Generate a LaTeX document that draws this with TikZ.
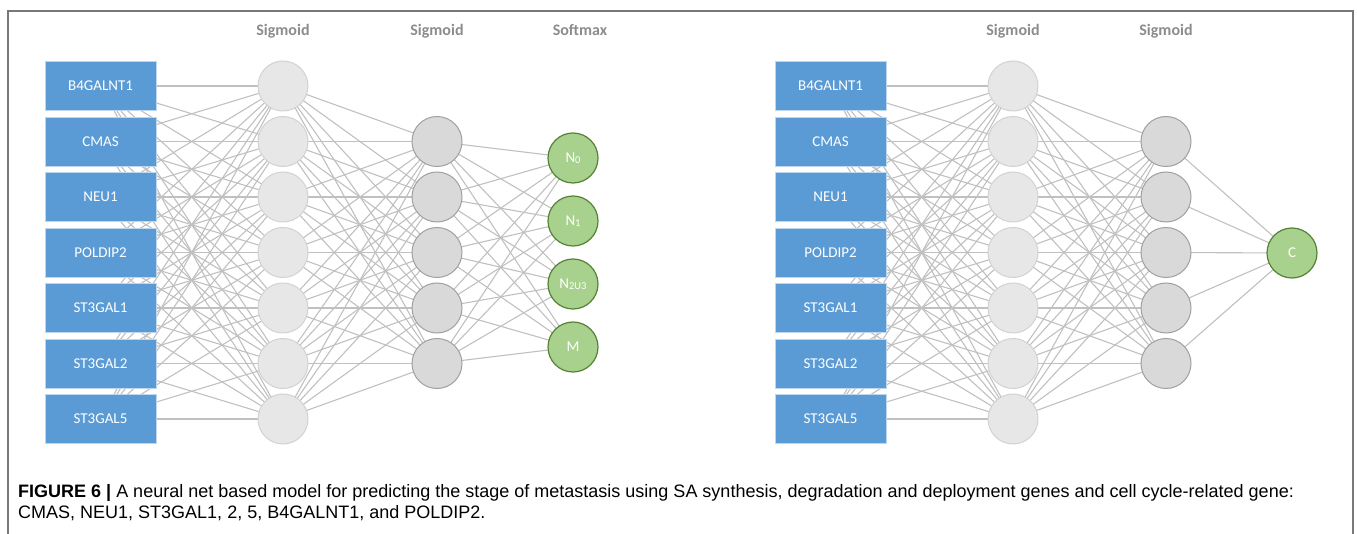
\documentclass[tikz,border=0pt]{standalone}
\usepackage{fontspec}
\setmainfont{Liberation Sans}
\newfontfamily\calibri{Carlito}
\usetikzlibrary{positioning, backgrounds}
\definecolor{inblue}{RGB}{91,155,213}
\definecolor{inedge}{RGB}{189,215,238}
\definecolor{hidlight}{RGB}{231,231,231}
\definecolor{hidlightedge}{RGB}{210,210,210}
\definecolor{hiddark}{RGB}{217,217,217}
\definecolor{hiddarkedge}{RGB}{160,160,160}
\definecolor{outgreen}{RGB}{169,209,142}
\definecolor{outedge}{RGB}{84,130,53}
\definecolor{wiregray}{RGB}{192,192,192}
\definecolor{headgray}{RGB}{140,140,140}
\definecolor{framegray}{RGB}{120,120,120}

\tikzset{
    inbox/.style={draw=inedge, line width=0.8pt, fill=inblue, text=white,
                  minimum width=111pt, minimum height=49pt, inner sep=0pt,
                  font=\calibri\fontsize{15}{15}\selectfont},
    hidA/.style={circle, draw=hidlightedge, line width=1pt, fill=hidlight, minimum size=50pt, inner sep=0pt},
    hidB/.style={circle, draw=hiddarkedge, line width=1pt, fill=hiddark, minimum size=50pt, inner sep=0pt},
    outnode/.style={circle, draw=outedge, line width=1.2pt, fill=outgreen, text=white,
                    minimum size=50pt, inner sep=0pt, font=\calibri\fontsize{15}{15}\selectfont},
    layerhead/.style={anchor=base, text=headgray, font=\calibri\bfseries\fontsize{16}{16}\selectfont},
    wire/.style={draw=wiregray, line width=1.1pt},
    captext/.style={anchor=base west, inner sep=0pt, font=\fontsize{18}{20}\selectfont},
}
\newcommand{\subtxt}[1]{{\fontsize{10.5}{10.5}\selectfont\raisebox{-1pt}{#1}}}

\begin{document}
\begin{tikzpicture}[x=1pt, y=-1pt]
    \useasboundingbox (0,0) rectangle (1357,534);

    % outer frame, open at the bottom
    \draw[framegray, line width=1.5pt] (8,540) |- (1353,11) -- (1353,540);

    % ---- left net: stage of metastasis ----
    \foreach \g [count=\i] in {B4GALNT1, CMAS, NEU1, POLDIP2, ST3GAL1, ST3GAL2, ST3GAL5}
        \node[inbox] (L-in-\i) at (100.5, 30.5+55.5*\i) {\g};
    \foreach \i in {1,...,7}
        \node[hidA] (L-h-\i) at (283, 30.5+55.5*\i) {};
    \foreach \i in {2,...,6}
        \node[hidB] (L-g-\i) at (437, 30.5+55.5*\i) {};
    \node[outnode] (L-out-1) at (573,158) {N\subtxt{0}};
    \node[outnode] (L-out-2) at (573,221) {N\subtxt{1}};
    \node[outnode] (L-out-3) at (573,284) {N\subtxt{2U3}};
    \node[outnode] (L-out-4) at (573,347) {M};

    \node[layerhead] (L-head-h) at (283,36) {Sigmoid};
    \node[layerhead] (L-head-g) at (437,36) {Sigmoid};
    \node[layerhead] (L-head-o) at (580,36) {Softmax};

    % ---- right net: cell cycle ----
    \foreach \g [count=\i] in {B4GALNT1, CMAS, NEU1, POLDIP2, ST3GAL1, ST3GAL2, ST3GAL5}
        \node[inbox] (R-in-\i) at (830.5, 30.5+55.5*\i) {\g};
    \foreach \i in {1,...,7}
        \node[hidA] (R-h-\i) at (1013, 30.5+55.5*\i) {};
    \foreach \i in {2,...,6}
        \node[hidB] (R-g-\i) at (1166, 30.5+55.5*\i) {};
    \node[outnode] (R-out) at (1292,253) {C};

    \node[layerhead] (R-head-h) at (1013,36) {Sigmoid};
    \node[layerhead] (R-head-g) at (1166,36) {Sigmoid};

    % all weights go behind the units
    \begin{scope}[on background layer]
        \foreach \i in {1,...,7}
            \foreach \j in {1,...,7} {
                \draw[wire] (L-in-\i.center) -- (L-h-\j.center);
                \draw[wire] (R-in-\i.center) -- (R-h-\j.center);
            }
        \foreach \i in {1,...,7}
            \foreach \j in {2,...,6} {
                \draw[wire] (L-h-\i.center) -- (L-g-\j.center);
                \draw[wire] (R-h-\i.center) -- (R-g-\j.center);
            }
        \foreach \i in {2,...,6} {
            \foreach \j in {1,...,4}
                \draw[wire] (L-g-\i.center) -- (L-out-\j.center);
            \draw[wire] (R-g-\i.center) -- (R-out.center);
        }
    \end{scope}

    % caption
    \node[captext] (caption-1) at (18,497)
        {\textbf{FIGURE 6 |} A neural net based model for predicting the stage of metastasis using SA synthesis, degradation and deployment genes and cell cycle-related gene:};
    \node[captext] (caption-2) at (18,518) {CMAS, NEU1, ST3GAL1, 2, 5, B4GALNT1, and POLDIP2.};
\end{tikzpicture}
\end{document}
